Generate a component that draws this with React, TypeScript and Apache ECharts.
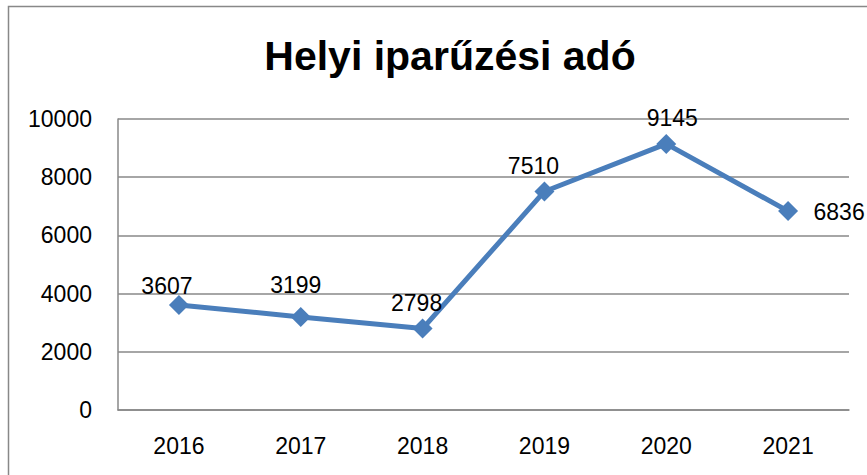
import React, { useEffect, useRef } from "react";
import * as echarts from "echarts";

const titleText = "Helyi iparűzési adó";
const years = ["2016", "2017", "2018", "2019", "2020", "2021"];
const values = [3607, 3199, 2798, 7510, 9145, 6836];
const labelOffsets: [number, number][] = [
  [-12, -19],
  [-5, -32],
  [-6, -26],
  [-11, -25],
  [6, -26],
  [51, 1],
];

const FONT = "'Liberation Sans', Arial, sans-serif";

export default function App() {
  const ref = useRef<HTMLDivElement>(null);
  useEffect(() => {
    document.body.style.margin = "0";
    const chart = echarts.init(ref.current!, null, { renderer: "svg" });
    chart.setOption({
      animation: false,
      backgroundColor: "#ffffff",
      textStyle: { fontFamily: FONT },
      title: {
        text: titleText,
        left: 445,
        textAlign: "center",
        top: 30,
        textStyle: { fontFamily: FONT, fontSize: 41, fontWeight: "bold", color: "#000" },
      },
      graphic: [
        {
          type: "rect",
          shape: { x: 8.5, y: 6.5, width: 900, height: 500 },
          style: { fill: "none", stroke: "#888888", lineWidth: 1.5 },
          silent: true,
        },
      ],
      grid: { left: 118, right: 18, top: 119, bottom: 65 },
      xAxis: {
        type: "category",
        data: years,
        boundaryGap: true,
        axisLine: { show: true, lineStyle: { color: "#888888", width: 1.5 } },
        axisTick: { show: false },
        axisLabel: { color: "#000", fontSize: 23, fontFamily: FONT, margin: 24 },
      },
      yAxis: {
        type: "value",
        min: 0,
        max: 10000,
        interval: 2000,
        axisLine: { show: true, lineStyle: { color: "#888888", width: 1.5 } },
        axisTick: { show: false },
        axisLabel: {
          color: "#000",
          fontSize: 23,
          fontFamily: FONT,
          margin: 26,
          formatter: (v: number) => String(v),
        },
        splitLine: { show: true, lineStyle: { color: "#888888", width: 1.5 } },
      },
      series: [
        {
          type: "line",
          data: values.map((v, i) => ({
            value: v,
            label: { offset: labelOffsets[i] },
          })),
          symbol: "diamond",
          symbolSize: 20,
          lineStyle: { color: "#4a7ebb", width: 5 },
          itemStyle: { color: "#4a7ebb" },
          label: {
            show: true,
            position: "inside",
            color: "#000",
            fontSize: 23,
            fontFamily: FONT,
          },
        },
      ],
    });
    return () => chart.dispose();
  }, []);
  return <div ref={ref} style={{ width: 867, height: 475 }} />;
}
